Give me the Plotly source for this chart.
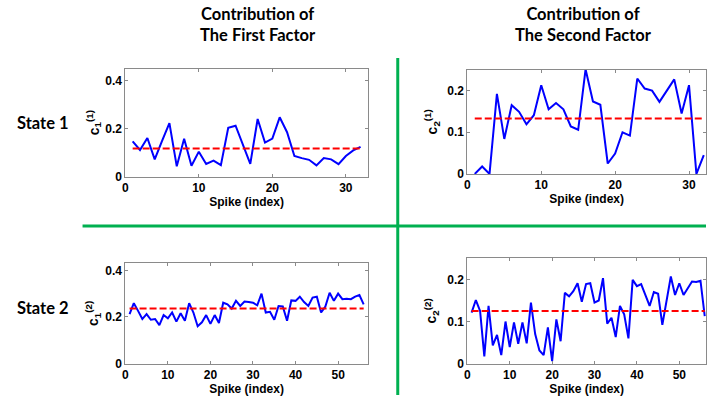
import plotly.graph_objects as go

# ---------------- data ----------------
s1_f1 = [0.148, 0.112, 0.162, 0.073, 0.150, 0.224, 0.044, 0.159, 0.046, 0.105,
         0.054, 0.068, 0.049, 0.204, 0.213, 0.132, 0.054, 0.241, 0.143, 0.159,
         0.248, 0.186, 0.087, 0.078, 0.071, 0.048, 0.078, 0.073, 0.053, 0.087,
         0.110, 0.125]
s1_f1_mean = 0.118

s1_f2 = [0.0, 0.018, 0.0, 0.192, 0.084, 0.165, 0.149, 0.119, 0.141, 0.213,
         0.155, 0.170, 0.155, 0.114, 0.106, 0.251, 0.174, 0.166, 0.025, 0.049,
         0.100, 0.092, 0.229, 0.205, 0.200, 0.173, 0.200, 0.227, 0.145, 0.213,
         0.0, 0.045]
s1_f2_mean = 0.133

s2_f1 = [0.212, 0.259, 0.226, 0.191, 0.212, 0.188, 0.191, 0.165, 0.208, 0.194,
         0.219, 0.180, 0.216, 0.184, 0.259, 0.219, 0.160, 0.177, 0.208, 0.170,
         0.208, 0.174, 0.261, 0.254, 0.236, 0.269, 0.247, 0.266, 0.264, 0.261,
         0.250, 0.300, 0.219, 0.222, 0.188, 0.247, 0.245, 0.184, 0.271, 0.269,
         0.287, 0.264, 0.247, 0.283, 0.287, 0.219, 0.245, 0.304, 0.269, 0.300,
         0.276, 0.278, 0.276, 0.287, 0.294, 0.254]
s2_f1_mean = 0.236

s2_f2 = [0.121, 0.151, 0.125, 0.017, 0.137, 0.043, 0.068, 0.020, 0.100, 0.039,
         0.098, 0.047, 0.098, 0.048, 0.145, 0.070, 0.031, 0.020, 0.086, 0.006,
         0.105, 0.053, 0.168, 0.160, 0.172, 0.191, 0.147, 0.189, 0.191, 0.145,
         0.150, 0.203, 0.095, 0.109, 0.063, 0.137, 0.117, 0.060, 0.199, 0.184,
         0.189, 0.164, 0.137, 0.170, 0.166, 0.092, 0.145, 0.207, 0.163, 0.191,
         0.163, 0.180, 0.195, 0.194, 0.197, 0.113]
s2_f2_mean = 0.125

col_titles = ["Contribution of<br>The First Factor", "Contribution of<br>The Second Factor"]
row_titles = ["State 1", "State 2"]
x_title = "Spike (index)"
y_titles = ["c<sub>1</sub><sup>(1)</sup>", "c<sub>2</sub><sup>(1)</sup>",
            "c<sub>1</sub><sup>(2)</sup>", "c<sub>2</sub><sup>(2)</sup>"]

# ---------------- layout helpers ----------------
W, H = 707, 402
def px(x): return x / W
def py(y): return 1 - y / H

panels = [
    # series, mean, x-range, y-range, x-ticks, y-ticks, box (left, right, top, bottom)
    (s1_f1, s1_f1_mean, [0, 33], [0, 0.45], [0, 10, 20, 30], [0, 0.2, 0.4], (123, 367, 70, 180)),
    (s1_f2, s1_f2_mean, [0, 32.3], [0, 0.25], [0, 10, 20, 30], [0, 0.1, 0.2], (467, 707, 71, 177)),
    (s2_f1, s2_f1_mean, [0, 57], [0, 0.43], [0, 10, 20, 30, 40, 50], [0, 0.2, 0.4], (123, 367, 268, 370)),
    (s2_f2, s2_f2_mean, [0, 56.3], [0, 0.25], [0, 10, 20, 30, 40, 50], [0, 0.1, 0.2], (467, 707, 263, 370)),
]
ylabel_x = [91, 431, 91, 431]

fig = go.Figure()
tick_font = dict(family="Liberation Sans, Arial, sans-serif", size=12, color="black", weight="bold")
annotations = []

for i, (vals, mean, xr, yr, xt, yt, box) in enumerate(panels):
    n = i + 1
    xa = "x" if n == 1 else f"x{n}"
    ya = "y" if n == 1 else f"y{n}"
    xs = list(range(1, len(vals) + 1))
    fig.add_trace(go.Scatter(x=xs, y=vals, mode="lines",
                             line=dict(color="#0000ff", width=2),
                             xaxis=xa, yaxis=ya, showlegend=False, cliponaxis=True))
    fig.add_trace(go.Scatter(x=[1, len(vals)], y=[mean, mean], mode="lines",
                             line=dict(color="#ff0000", width=2, dash="7px,3px"),
                             xaxis=xa, yaxis=ya, showlegend=False))
    l, r, t, b = box
    axcommon = dict(showline=True, mirror="ticks", linecolor="#8a8a8a", linewidth=1,
                    ticks="inside", ticklen=3, tickcolor="#8a8a8a",
                    showgrid=False, zeroline=False, tickfont=tick_font, fixedrange=True)
    fig.update_layout(**{
        ("xaxis" if n == 1 else f"xaxis{n}"): dict(
            domain=[px(l), min(px(r), 1.0)], range=xr, tickvals=xt,
            anchor=ya, title=dict(text=x_title, font=tick_font, standoff=0),
            **axcommon),
        ("yaxis" if n == 1 else f"yaxis{n}"): dict(
            domain=[py(b), py(t)], range=yr, tickvals=yt,
            anchor=xa, **axcommon),
    })
    annotations.append(dict(text=y_titles[i], xref="paper", yref="paper",
                            x=px(ylabel_x[i]), y=py((t + b) / 2), textangle=-90,
                            showarrow=False,
                            font=dict(family="Liberation Sans, Arial", size=14, color="black", weight="bold"),
                            xanchor="center", yanchor="middle"))

title_font = dict(family="Lato, Noto Sans, sans-serif", size=16.5, color="black", weight="bold")
for txt, cx in zip(col_titles, [256, 584]):
    annotations.append(dict(text=txt, xref="paper", yref="paper",
                            x=px(cx), y=py(25), showarrow=False, font=title_font,
                            xanchor="center", yanchor="middle", align="center"))
for txt, cy in zip(row_titles, [125, 313]):
    annotations.append(dict(text=txt, xref="paper", yref="paper",
                            x=px(12), y=py(cy), showarrow=False, font=title_font,
                            xanchor="left", yanchor="middle"))

green = "#00b050"
shapes = [
    dict(type="line", xref="paper", yref="paper", x0=px(397), x1=px(397), y0=0, y1=py(59),
         line=dict(color=green, width=3)),
    dict(type="line", xref="paper", yref="paper", x0=px(80), x1=1, y0=py(230), y1=py(230),
         line=dict(color=green, width=3)),
]

fig.update_layout(width=W, height=H, margin=dict(l=0, r=0, t=0, b=0),
                  paper_bgcolor="white", plot_bgcolor="white",
                  annotations=annotations, shapes=shapes, showlegend=False)

fig.write_html("out.html", config={"displayModeBar": False},
               post_script="document.body.style.margin='0';document.body.style.overflow='hidden';")
